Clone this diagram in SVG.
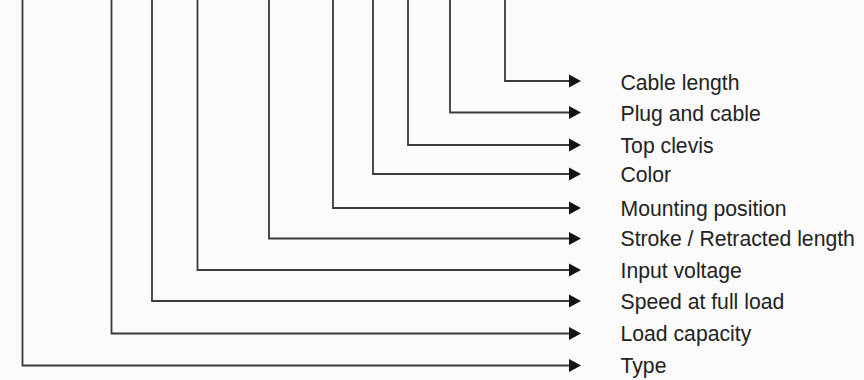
<svg xmlns="http://www.w3.org/2000/svg" width="864" height="380" viewBox="0 0 864 380">
<style>
.bg{fill:#fbfbfb}
.c{fill:none;stroke:#3a3a3a;stroke-width:1.8;marker-end:url(#ah)}
.t{font-family:"Liberation Sans",Arial,sans-serif;font-size:21.2px;fill:#222}
</style>
<defs>
<marker id="ah" markerUnits="userSpaceOnUse" markerWidth="13" markerHeight="14" refX="0" refY="6.5" orient="auto" overflow="visible">
<path d="M0,0 L12,6.5 L0,13 z" fill="#141414"/>
</marker>
</defs>
<rect class="bg" x="0" y="0" width="864" height="380"/>
<g id="connectors">
<path class="c" d="M505,0 V81 H569"/>
<path class="c" d="M450,0 V112.5 H569"/>
<path class="c" d="M408,0 V145 H569"/>
<path class="c" d="M373,0 V174 H569"/>
<path class="c" d="M333,0 V208 H569"/>
<path class="c" d="M269,0 V238.5 H569"/>
<path class="c" d="M197.5,0 V270 H569"/>
<path class="c" d="M152,0 V301 H569"/>
<path class="c" d="M111.5,0 V333.5 H569"/>
<path class="c" d="M22.5,0 V365.5 H569"/>
</g>
<g id="cable-length"><text class="t" x="620.5" y="89.5">Cable length</text></g>
<g id="plug-and-cable"><text class="t" x="620.5" y="120.5">Plug and cable</text></g>
<g id="top-clevis"><text class="t" x="620.5" y="153">Top clevis</text></g>
<g id="color"><text class="t" x="620.5" y="182">Color</text></g>
<g id="mounting-position"><text class="t" x="620.5" y="215.5">Mounting position</text></g>
<g id="stroke-retracted-length"><text class="t" x="620.5" y="246">Stroke / Retracted length</text></g>
<g id="input-voltage"><text class="t" x="620.5" y="277.5">Input voltage</text></g>
<g id="speed-at-full-load"><text class="t" x="620.5" y="308.5">Speed at full load</text></g>
<g id="load-capacity"><text class="t" x="620.5" y="341">Load capacity</text></g>
<g id="type"><text class="t" x="620.5" y="373">Type</text></g>
</svg>
